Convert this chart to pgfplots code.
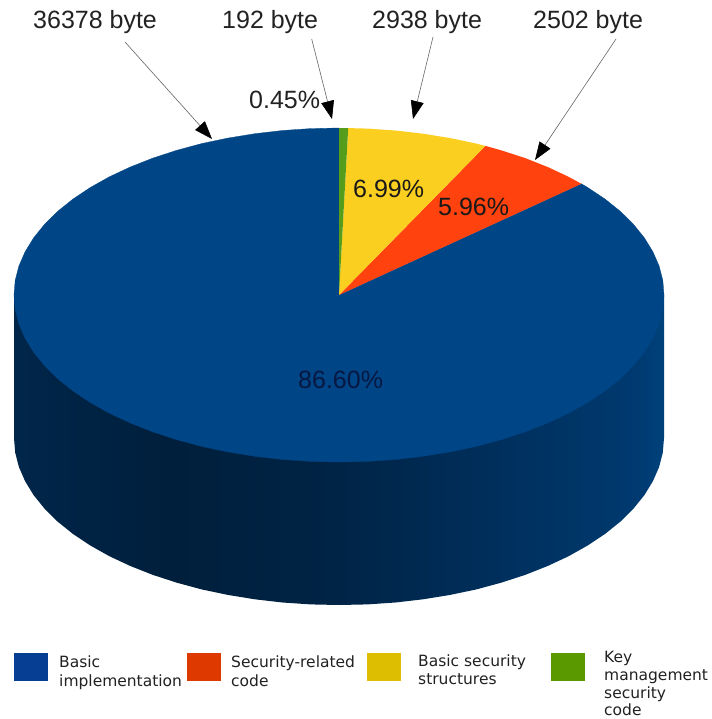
\documentclass[border=0pt]{standalone}
\usepackage{fontspec}
\setmainfont{Liberation Sans}
\newfontfamily\legendfont{DejaVu Sans}
\usepackage{pgfplots}
\pgfplotsset{compat=1.18}
\usetikzlibrary{arrows.meta}

% Shares of the code base: 86.60 / 5.96 / 6.99 / 0.45 percent,
% running clockwise from twelve o'clock: green to 1.62 deg, yellow to 26.78 deg,
% orange to 48.24 deg, blue for the remainder.
\definecolor{pieblue}{HTML}{004586}
\definecolor{pieorange}{HTML}{FF420E}
\definecolor{pieyellow}{HTML}{FBCF20}
\definecolor{piegreen}{HTML}{579D1C}
\definecolor{keyblue}{HTML}{063E93}
\definecolor{keyorange}{HTML}{DE3A00}
\definecolor{keyyellow}{HTML}{DDBE00}
\definecolor{keygreen}{HTML}{5A9A00}
\definecolor{inktext}{HTML}{222222}
\definecolor{wallA}{HTML}{00264A}
\definecolor{wallB}{HTML}{001F3C}
\definecolor{wallC}{HTML}{002446}
\definecolor{wallD}{HTML}{002F5C}
\definecolor{wallE}{HTML}{003A70}
\definecolor{wallF}{HTML}{00427C}

% Lit from the right: the cylinder wall darkens towards the left
\pgfdeclarehorizontalshading{sidewall}{100bp}{
  color(0bp)=(wallA);
  color(25bp)=(wallA);
  color(37bp)=(wallB);
  color(50bp)=(wallC);
  color(62bp)=(wallD);
  color(73bp)=(wallE);
  color(75bp)=(wallF);
  color(100bp)=(wallF)}

\tikzset{
  ptlabel/.style={anchor=base west,inner sep=0pt,font=\fontsize{25}{30}\selectfont,text=inktext},
  keylabel/.style={anchor=base west,inner sep=0pt,font=\legendfont\fontsize{15.5}{18}\selectfont,text=inktext},
  leader/.style={draw=black!60,line width=0.6pt,
    -{Triangle[length=18pt,width=13pt,color=black,fill=black]}},
}

\begin{document}
\begin{tikzpicture}
\begin{axis}[
  hide axis, scale only axis,
  width=711pt, height=719pt,
  xmin=0, xmax=711, ymin=0, ymax=719, y dir=reverse,
  clip=false, no markers,
]
% full canvas, kept white behind the chart
\path[fill=white] (axis cs:0,0) rectangle (axis cs:711,719);

% cylinder wall
\addplot[draw=none, shading=sidewall] coordinates {
  (14,295) (14,438) (15.2,452.6) (18.9,467) (25.1,481.2) (33.6,495.1) (44.5,508.6)
  (57.5,521.5) (72.8,533.8) (90,545.3) (109.2,556.1) (130.1,565.9) (152.6,574.8)
  (176.5,582.6) (201.6,589.4) (227.8,594.9) (254.9,599.3) (282.6,602.5) (310.7,604.4)
  (339,605) (367.3,604.4) (395.4,602.5) (423.1,599.3) (450.2,594.9) (476.4,589.4)
  (501.5,582.6) (525.4,574.8) (547.9,565.9) (568.8,556.1) (588,545.3) (605.2,533.8)
  (620.5,521.5) (633.5,508.6) (644.4,495.1) (652.9,481.2) (659.1,467) (662.8,452.6)
  (664,438) (664,295)
} --cycle;

% top face: Basic implementation
\addplot[fill=pieblue, draw=pieblue, line width=0.3pt] coordinates {
  (339,295) (581.4,183.8) (588,187.7) (605.2,199.2) (620.5,211.5) (633.5,224.4)
  (644.4,237.9) (652.9,251.8) (659.1,266) (662.8,280.4) (664,295) (662.8,309.6)
  (659.1,324) (652.9,338.2) (644.4,352.1) (633.5,365.6) (620.5,378.5) (605.2,390.8)
  (588,402.3) (568.8,413.1) (547.9,422.9) (525.4,431.8) (501.5,439.6) (476.4,446.4)
  (450.2,451.9) (423.1,456.3) (395.4,459.5) (367.3,461.4) (339,462) (310.7,461.4)
  (282.6,459.5) (254.9,456.3) (227.8,451.9) (201.6,446.4) (176.5,439.6) (152.6,431.8)
  (130.1,422.9) (109.2,413.1) (90,402.3) (72.8,390.8) (57.5,378.5) (44.5,365.6)
  (33.6,352.1) (25.1,338.2) (18.9,324) (15.2,309.6) (14,295) (15.2,280.4) (18.9,266)
  (25.1,251.8) (33.6,237.9) (44.5,224.4) (57.5,211.5) (72.8,199.2) (90,187.7)
  (109.2,176.9) (130.1,167.1) (152.6,158.2) (176.5,150.4) (201.6,143.6) (227.8,138.1)
  (254.9,133.7) (282.6,130.5) (310.7,128.6) (339,128)
} --cycle;

% top face: Security-related code
\addplot[fill=pieorange, draw=none] coordinates {
  (339,295) (485.4,145.9) (501.5,150.4) (525.4,158.2) (547.9,167.1) (568.8,176.9) (581.4,183.8)
} --cycle;

% top face: Basic security structures
\addplot[fill=pieyellow, draw=none] coordinates {
  (339,295) (348.2,128.1) (367.3,128.6) (395.4,130.5) (423.1,133.7) (450.2,138.1) (476.4,143.6) (485.4,145.9)
} --cycle;

% top face: Key management security code
\addplot[fill=piegreen, draw=none] coordinates {
  (339,295) (339,128) (348.2,128.1)
} --cycle;

% leader lines from the byte counts
\addplot[leader] coordinates {(125,42) (212,139)};
\addplot[leader] coordinates {(311.7,39) (332,119)};
\addplot[leader] coordinates {(433,37) (413,119)};
\addplot[leader] coordinates {(616,39) (535,160)};

% byte counts
\node[ptlabel] at (axis cs:33,28.5) {36378 byte};
\node[ptlabel] at (axis cs:222,28.5) {192 byte};
\node[ptlabel] at (axis cs:372,28.5) {2938 byte};
\node[ptlabel] at (axis cs:533,28.5) {2502 byte};

% percentages
\node[ptlabel] at (axis cs:249,109) {0.45\%};
\node[ptlabel,text=black!90] at (axis cs:353,197) {6.99\%};
\node[ptlabel,text=black!90] at (axis cs:438,215) {5.96\%};
\node[ptlabel,text={rgb,255:red,8;green,24;blue,66}] at (axis cs:298,388) {86.60\%};

% key swatches
\addplot[fill=keyblue, draw=none] coordinates {(14,653) (48,653) (48,681) (14,681)} --cycle;
\addplot[fill=keyorange, draw=none] coordinates {(187,653) (221,653) (221,681) (187,681)} --cycle;
\addplot[fill=keyyellow, draw=none] coordinates {(367,653) (401,653) (401,681) (367,681)} --cycle;
\addplot[fill=keygreen, draw=none] coordinates {(551,653) (585,653) (585,681) (551,681)} --cycle;

% key texts
\node[keylabel] at (axis cs:59,667) {Basic};
\node[keylabel] at (axis cs:59,686) {implementation};
\node[keylabel] at (axis cs:231,667) {Security-related};
\node[keylabel] at (axis cs:231,686) {code};
\node[keylabel] at (axis cs:418,666) {Basic security};
\node[keylabel] at (axis cs:418,684) {structures};
\node[keylabel] at (axis cs:604,662) {Key};
\node[keylabel] at (axis cs:604,680) {management};
\node[keylabel] at (axis cs:604,698) {security};
\node[keylabel] at (axis cs:604,715.5) {code};
\end{axis}
\end{tikzpicture}
\end{document}
